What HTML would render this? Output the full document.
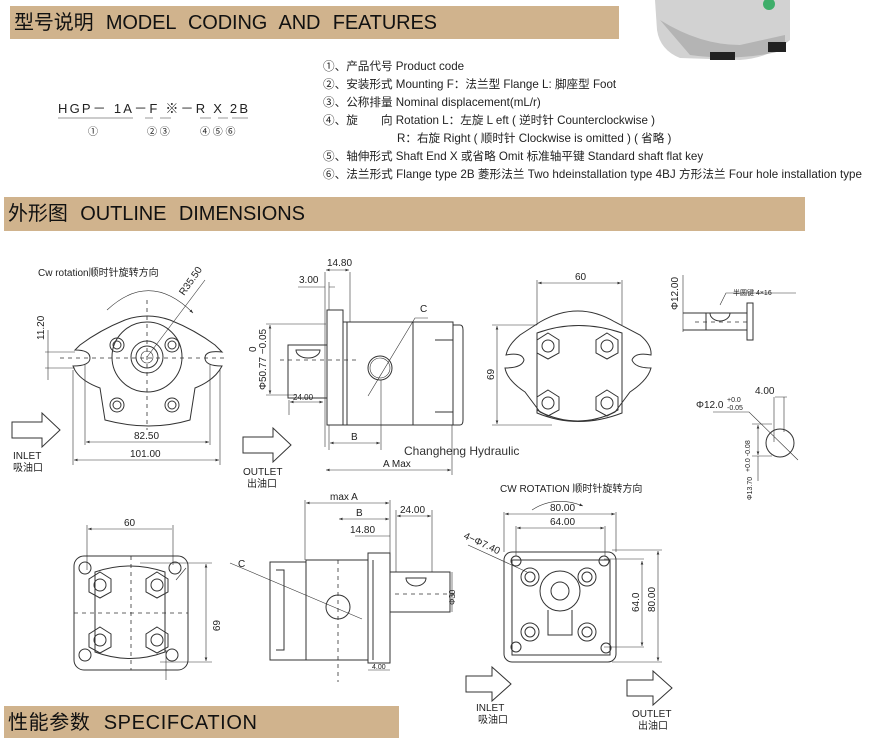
<!DOCTYPE html>
<html><head><meta charset="utf-8"><style>
body{margin:0;background:#fff;width:870px;height:741px;overflow:hidden}
svg{display:block}
text{font-family:"Liberation Sans","Noto Sans CJK SC",sans-serif;fill:#222}
.l{fill:none;stroke:#333;stroke-width:1}
.t{stroke-width:.6}
.d{fill:none;stroke:#333;stroke-width:.8;stroke-dasharray:4 4}
.s{font-size:10px}
.f{font-size:11.6px;fill:#333}
.h{font-size:20px;fill:#111;word-spacing:7px}
</style></head><body>
<svg width="870" height="741" viewBox="0 0 870 741" xmlns="http://www.w3.org/2000/svg">
<defs><marker id="a" viewBox="0 0 8 8" refX="8" refY="4" markerWidth="6" markerHeight="6" orient="auto-start-reverse"><path d="M0,1 L8,4 L0,7z" fill="#333"/></marker></defs>
<!-- banners -->
<rect x="10" y="6" width="609" height="33" fill="#d0b38d"/>
<text x="14" y="29" class="h" textLength="423">型号说明  MODEL  CODING  AND  FEATURES</text>
<rect x="4" y="197" width="801" height="34" fill="#d0b38d"/>
<text x="8" y="220" class="h" textLength="297">外形图  OUTLINE  DIMENSIONS</text>
<rect x="4" y="706" width="395" height="32" fill="#d0b38d"/>
<text x="8" y="729" class="h" textLength="249">性能参数    SPECIFCATION</text>
<!-- photo -->
<path d="M655,0 L790,0 L790,40 Q770,58 740,60 L680,58 Q660,50 657,30z" fill="#d2d2d2"/>
<path d="M660,20 Q700,45 740,45 L785,35 L785,50 Q740,62 690,55z" fill="#b4b4b4"/>
<rect x="710" y="52" width="25" height="8" fill="#222"/><rect x="768" y="42" width="18" height="10" fill="#222"/>
<circle cx="769" cy="4" r="6" fill="#3fae6a"/>
<!-- model code -->
<text x="58" y="113" style="font-size:13px" textLength="190">HGP－ 1A－F  ※－R  X  2B</text>
<path class="t l" d="M58,118h75 M145,118h8 M160,118h11 M200,118h11 M218,118h10 M232,118h16"/>
<text x="88" y="135" class="s">①</text><text x="147" y="135" class="s">②   ③</text><text x="200" y="135" class="s">④   ⑤   ⑥</text>
<g class="f">
<text x="323" y="70">①、产品代号  Product code</text>
<text x="323" y="88">②、安装形式  Mounting  F：法兰型 Flange  L: 脚座型 Foot</text>
<text x="323" y="106">③、公称排量  Nominal displacement(mL/r)</text>
<text x="323" y="124">④、旋　　向  Rotation   L：左旋 L eft ( 逆时针 Counterclockwise )</text>
<text x="397" y="142">R：右旋 Right ( 顺时针 Clockwise is omitted ) ( 省略 )</text>
<text x="323" y="160">⑤、轴伸形式  Shaft End      X 或省略 Omit 标准轴平键  Standard shaft flat key</text>
<text x="323" y="178" textLength="539">⑥、法兰形式  Flange type 2B 菱形法兰 Two hdeinstallation type  4BJ 方形法兰  Four hole installation type</text>
</g>
<!-- drawing 1 -->
<text x="38" y="276" class="s">Cw rotation顺时针旋转方向</text>
<path class="l t" d="M107,310 Q150,270 193,313" marker-end="url(#a)"/>
<text x="184" y="296" class="s" transform="rotate(-55 184 296)">R35.50</text>
<line class="l t" x1="147" y1="357" x2="205" y2="280"/>
<path class="l" d="M80,345 Q100,330 125,320 Q147,312 170,320 Q195,330 215,345 L222,352 Q205,350 205,358 Q205,366 222,366 Q215,380 195,388 L190,420 Q150,432 105,420 L100,388 Q78,380 73,366 Q90,366 90,358 Q90,350 75,350z"/>
<circle class="l" cx="147" cy="357" r="35"/>
<circle class="l" cx="147" cy="357" r="16"/><circle class="l" cx="147" cy="357" r="11"/><circle class="l t" cx="147" cy="357" r="6"/>
<g class="l"><circle cx="117" cy="345" r="7"/><circle cx="117" cy="345" r="4"/><circle cx="172" cy="345" r="7"/><circle cx="172" cy="345" r="4"/><circle cx="117" cy="405" r="7"/><circle cx="117" cy="405" r="4"/><circle cx="172" cy="405" r="7"/><circle cx="172" cy="405" r="4"/></g>
<path class="d" d="M60,358h165 M147,300v130"/>
<path class="l t" d="M85,365v80 M210,365v80 M73,370v95 M220,370v95 M45,352h30 M45,368h30 M48,330v50"/>
<line class="l t" x1="86" y1="442" x2="209" y2="442" marker-start="url(#a)" marker-end="url(#a)"/>
<line class="l t" x1="74" y1="460" x2="219" y2="460" marker-start="url(#a)" marker-end="url(#a)"/>
<text x="134" y="439" class="s">82.50</text><text x="130" y="457" class="s">101.00</text>
<text x="44" y="340" class="s" transform="rotate(-90 44 340)">11.20</text>
<path class="l" d="M12,422h30v-9l18,17l-18,17v-9h-30z"/>
<text x="13" y="459" class="s">INLET</text><text x="13" y="471" class="s">吸油口</text>
<!-- drawing 2 -->
<path class="l" d="M327,310h16v115h-16z M343,322h110v103h-110z M453,325h7q3,0 3,5v90q0,5-3,5h-7z M288,345h39v53h-39z M347,322v103 M413,322v103 M435,340h18v72h-18"/>
<path class="l" d="M296,350a12,8 0 0 0 24,0z"/>
<path class="d" d="M280,360h80"/>
<circle class="l" cx="380" cy="368" r="12"/><circle class="l t" cx="380" cy="368" r="10"/>
<path class="l t" d="M368,396L415,318h13 M325,272v175 M350,272v50 M329,282v28"/>
<text x="420" y="312" class="s">C</text>
<line class="l t" x1="326" y1="270" x2="349" y2="270" marker-start="url(#a)" marker-end="url(#a)"/>
<text x="327" y="266" class="s">14.80</text>
<path class="l t" d="M298,287h27 M329,287h6"/><text x="299" y="283" class="s">3.00</text>
<path class="l t" d="M266,324h60 M266,395h30 M289,400v15"/>
<line class="l t" x1="270" y1="325" x2="270" y2="394" marker-start="url(#a)" marker-end="url(#a)"/>
<text x="266" y="390" class="s" transform="rotate(-90 266 390)">Φ50.77 −0.05</text><text x="256" y="352" class="s" transform="rotate(-90 256 352)">0</text>
<line class="l t" x1="290" y1="402" x2="323" y2="402" marker-start="url(#a)" marker-end="url(#a)"/>
<text x="293" y="400" style="font-size:8px">24.00</text>
<path class="l t" d="M329,425v25 M381,380v70 M452,425v50"/>
<line class="l t" x1="330" y1="443" x2="380" y2="443" marker-start="url(#a)" marker-end="url(#a)"/><text x="351" y="440" class="s">B</text>
<line class="l t" x1="326" y1="470" x2="451" y2="470" marker-start="url(#a)" marker-end="url(#a)"/><text x="383" y="467" class="s">A Max</text>
<text x="404" y="455" style="font-size:12px;fill:#333">Changheng Hydraulic</text>
<path class="l" d="M243,437h30v-9l18,17l-18,17v-9h-30z"/>
<text x="243" y="475" class="s">OUTLET</text><text x="247" y="487" class="s">出油口</text>
<!-- drawing 3 -->
<path class="l t" d="M537,280v45 M622,280v45"/>
<line class="l t" x1="538" y1="283" x2="621" y2="283" marker-start="url(#a)" marker-end="url(#a)"/><text x="575" y="280" class="s">60</text>
<path class="l t" d="M492,325h45 M492,425h60"/>
<line class="l t" x1="497" y1="326" x2="497" y2="424" marker-start="url(#a)" marker-end="url(#a)"/><text x="494" y="380" class="s" transform="rotate(-90 494 380)">69</text>
<path class="l" d="M540,322Q578,300 615,322L640,335Q652,345 651,355Q635,352 632,360Q635,368 651,368Q648,380 630,392L615,412Q578,430 540,412L525,392Q507,380 505,368Q522,368 524,360Q522,352 506,355Q508,345 520,335z"/>
<path class="l" d="M537,333Q578,318 622,333v80Q578,430 537,413z"/>
<g class="l"><polygon points="548,333 559,340 559,353 548,359 537,353 537,340"/><circle cx="548" cy="346" r="6"/><polygon points="607,333 618,340 618,353 607,359 596,353 596,340"/><circle cx="607" cy="346" r="6"/><polygon points="548,390 559,397 559,410 548,416 537,410 537,397"/><circle cx="548" cy="403" r="6"/><polygon points="607,390 618,397 618,410 607,416 596,410 596,397"/><circle cx="607" cy="403" r="6"/></g>
<!-- drawing 4 -->
<path class="l" d="M683,313h64 M683,330h64 M747,303h6v37h-6z M710,313a10,8 0 0 0 20,0z M706,313v17"/>
<path class="d" d="M695,322h55"/>
<path class="l t" d="M683,275v57 M720,305l6,-12h70"/><text x="733" y="295" style="font-size:7px">半圆键 4×16</text>
<text x="678" y="310" class="s" transform="rotate(-90 678 310)">Φ12.00</text>
<!-- drawing 5 -->
<text x="696" y="408" class="s">Φ12.0</text><text x="727" y="402" style="font-size:7px">+0.0</text><text x="727" y="410" style="font-size:7px">-0.05</text>
<text x="755" y="394" class="s">4.00</text>
<path class="l t" d="M775,397h12 M774,397v45 M784,397v35 M713,412h36 L798,460 M752,424h20 M752,456h20"/>
<circle class="l" cx="780" cy="443" r="14"/>
<line class="l t" x1="758" y1="425" x2="758" y2="455" marker-start="url(#a)" marker-end="url(#a)"/>
<path class="l t" d="M758,456v25"/>
<text x="752" y="500" style="font-size:7px" transform="rotate(-90 752 500)">Φ13.70</text>
<text x="750" y="472" style="font-size:7px" transform="rotate(-90 750 472)">+0.0 -0.08</text>
<!-- bottom drawing 1 -->
<path class="l t" d="M87,525v45 M173,525v40"/>
<line class="l t" x1="88" y1="529" x2="172" y2="529" marker-start="url(#a)"/><text x="124" y="526" class="s">60</text>
<rect class="l" x="74" y="556" width="114" height="114" rx="10"/>
<path class="l" d="M95,572Q130,560 165,572v80Q130,665 95,652z"/>
<g class="l"><circle cx="85" cy="568" r="6"/><circle cx="175" cy="568" r="6"/><circle cx="85" cy="655" r="6"/><circle cx="172" cy="655" r="6"/>
<polygon points="100,572 111,579 111,592 100,598 89,592 89,579"/><circle cx="100" cy="585" r="6"/><polygon points="157,572 168,579 168,592 157,598 146,592 146,579"/><circle cx="157" cy="585" r="6"/><polygon points="100,627 111,634 111,647 100,653 89,647 89,634"/><circle cx="100" cy="640" r="6"/><polygon points="157,627 168,634 168,647 157,653 146,647 146,634"/><circle cx="157" cy="640" r="6"/></g>
<path class="d" d="M74,613h114 M131,556v114"/>
<path class="l t" d="M140,563h72 M160,662h52 M166,680v-30 M176,580l10,-12"/>
<line class="l t" x1="206" y1="564" x2="206" y2="661" marker-start="url(#a)" marker-end="url(#a)"/><text x="213" y="620" class="s" transform="rotate(90 213 620)">69</text>
<!-- bottom drawing 2 -->
<path class="l" d="M270,562h36v98h-36z M306,560h62v100h-62z M368,553h22v110h-22z M373,560v100 M390,572h60v40h-60z M276,570h8v80h-8"/>
<path class="l" d="M406,578a10,8 0 0 0 20,0z"/>
<path class="d" d="M395,594h60 M338,560v122"/>
<circle class="l" cx="338" cy="607" r="12"/>
<path class="l t" d="M230,563L362,619"/><text x="238" y="567" class="s">C</text>
<path class="l t" d="M305,500v60 M390,500v53 M396,510v62 M432,510v62 M355,536h35 M368,670h22"/>
<line class="l t" x1="306" y1="503" x2="389" y2="503" marker-start="url(#a)" marker-end="url(#a)"/><text x="330" y="500" class="s">max A</text>
<line class="l t" x1="339" y1="519" x2="389" y2="519" marker-start="url(#a)" marker-end="url(#a)"/><text x="356" y="516" class="s">B</text>
<text x="350" y="533" class="s">14.80</text>
<line class="l t" x1="397" y1="516" x2="431" y2="516" marker-start="url(#a)" marker-end="url(#a)"/><text x="400" y="513" class="s">24.00</text>
<text x="372" y="669" style="font-size:7px">4.00</text>
<path class="l t" d="M452,572v40"/><text x="455" y="605" style="font-size:8px" transform="rotate(-90 455 605)">Φ30</text>
<!-- bottom drawing 3 -->
<text x="500" y="492" class="s">CW ROTATION 顺时针旋转方向</text>
<path class="l t" d="M532,510Q555,495 583,506" marker-end="url(#a)"/>
<path class="l t" d="M504,512v40 M616,512v40 M516,526v30 M605,526v30"/>
<line class="l t" x1="505" y1="514" x2="615" y2="514" marker-start="url(#a)" marker-end="url(#a)"/><text x="550" y="511" class="s">80.00</text>
<line class="l t" x1="517" y1="528" x2="604" y2="528" marker-start="url(#a)" marker-end="url(#a)"/><text x="550" y="525" class="s">64.00</text>
<text x="463" y="538" class="s" transform="rotate(25 463 538)">4−Φ7.40</text>
<path class="l t" d="M468,545L527,572"/>
<rect class="l" x="504" y="552" width="112" height="110" rx="8"/>
<path class="l" d="M512,560h98v95h-98z"/>
<g class="l"><circle cx="516" cy="561" r="5"/><circle cx="604" cy="561" r="5"/><circle cx="516" cy="647" r="5"/><circle cx="606" cy="648" r="5"/>
<circle cx="530" cy="577" r="9"/><circle cx="530" cy="577" r="5"/><circle cx="587" cy="577" r="9"/><circle cx="587" cy="577" r="5"/><circle cx="530" cy="632" r="9"/><circle cx="530" cy="632" r="5"/><circle cx="587" cy="632" r="9"/><circle cx="587" cy="632" r="5"/>
<circle cx="560" cy="591" r="20"/><circle cx="560" cy="591" r="9"/><path d="M548,610v25h24v-25"/></g>
<path class="l t" d="M604,559h40 M604,647h40 M612,550h50 M612,662h50"/>
<line class="l t" x1="642" y1="561" x2="642" y2="646" marker-start="url(#a)" marker-end="url(#a)"/><text x="639" y="612" class="s" transform="rotate(-90 639 612)">64.0</text>
<line class="l t" x1="658" y1="551" x2="658" y2="661" marker-start="url(#a)" marker-end="url(#a)"/><text x="655" y="612" class="s" transform="rotate(-90 655 612)">80.00</text>
<path class="l" d="M466,676h26v-9l19,17l-19,17v-9h-26z"/>
<text x="476" y="711" class="s">INLET</text><text x="478" y="723" class="s">吸油口</text>
<path class="l" d="M627,680h26v-9l19,17l-19,17v-9h-26z"/>
<text x="632" y="717" class="s">OUTLET</text><text x="638" y="729" class="s">出油口</text>
</svg>
</body></html>
